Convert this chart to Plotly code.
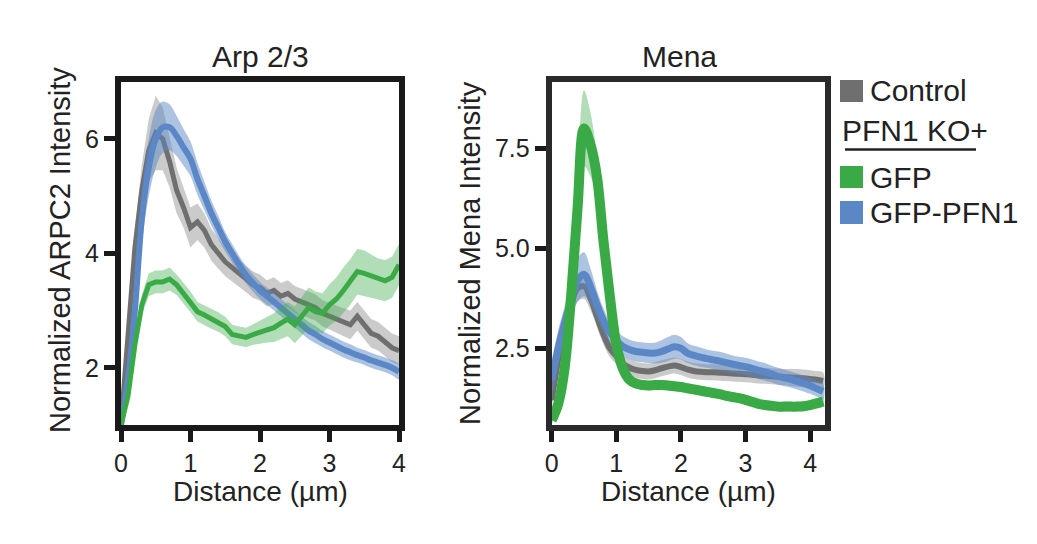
import plotly.graph_objects as go

# ---------------- data ----------------
dist_arp = [round(i * 0.1, 1) for i in range(41)]          # 0 .. 4.0
dist_mena = [round(i * 0.1, 1) for i in range(43)]         # 0 .. 4.2

arp_control = [1.0, 2.7, 4.1, 5.1, 5.8, 6.1, 6.0, 5.6, 5.1, 4.8, 4.45, 4.55, 4.4, 4.15, 4.0,
               3.85, 3.75, 3.65, 3.55, 3.45, 3.4, 3.3, 3.35, 3.25, 3.3, 3.2, 3.15, 3.1, 3.05,
               2.95, 2.9, 2.85, 2.8, 2.75, 2.9, 2.75, 2.6, 2.55, 2.45, 2.35, 2.3]
arp_control_err = [0.1, 0.25, 0.35, 0.45, 0.55, 0.65, 0.55, 0.45, 0.4, 0.35, 0.35, 0.32, 0.3,
                   0.28, 0.27, 0.25, 0.24, 0.24, 0.23, 0.23, 0.23, 0.23, 0.23, 0.23, 0.23, 0.23,
                   0.23, 0.23, 0.23, 0.23, 0.23, 0.24, 0.24, 0.25, 0.25, 0.25, 0.25, 0.25, 0.25,
                   0.25, 0.25]
arp_gfp_pfn1 = [1.0, 1.8, 3.0, 4.6, 5.5, 6.0, 6.2, 6.2, 6.05, 5.85, 5.65, 5.3, 5.0, 4.7, 4.45,
                4.2, 4.0, 3.8, 3.62, 3.48, 3.35, 3.25, 3.15, 3.05, 2.95, 2.85, 2.75, 2.65, 2.58,
                2.5, 2.44, 2.38, 2.32, 2.27, 2.22, 2.18, 2.13, 2.09, 2.05, 2.0, 1.93]
arp_gfp_pfn1_err = [0.1, 0.2, 0.35, 0.45, 0.5, 0.5, 0.45, 0.4, 0.35, 0.32, 0.3, 0.28, 0.25,
                    0.22, 0.2, 0.17, 0.16, 0.15, 0.15, 0.15, 0.15, 0.15, 0.15, 0.15, 0.15, 0.15,
                    0.15, 0.15, 0.15, 0.14, 0.14, 0.14, 0.14, 0.14, 0.13, 0.13, 0.13, 0.13, 0.13,
                    0.13, 0.13]
arp_gfp = [1.0, 1.5, 2.4, 3.1, 3.45, 3.5, 3.5, 3.55, 3.45, 3.3, 3.15, 2.98, 2.92, 2.85, 2.8,
           2.72, 2.58, 2.55, 2.53, 2.58, 2.62, 2.66, 2.7, 2.78, 2.85, 2.75, 2.9, 3.05, 2.98, 2.95,
           3.1, 3.2, 3.35, 3.5, 3.68, 3.65, 3.6, 3.55, 3.52, 3.58, 3.8]
arp_gfp_err = [0.1, 0.12, 0.15, 0.18, 0.2, 0.2, 0.2, 0.2, 0.18, 0.18, 0.18, 0.17, 0.17, 0.17,
               0.17, 0.17, 0.17, 0.17, 0.17, 0.18, 0.2, 0.22, 0.25, 0.28, 0.3, 0.32, 0.34, 0.35,
               0.35, 0.35, 0.36, 0.38, 0.4, 0.4, 0.4, 0.4, 0.38, 0.36, 0.36, 0.36, 0.36]

mena_control = [1.2, 2.2, 3.0, 3.6, 4.0, 4.05, 3.75, 3.3, 2.85, 2.5, 2.3, 2.12, 2.02, 1.96, 1.93,
                1.92, 1.95, 2.0, 2.04, 2.07, 2.03, 1.97, 1.93, 1.91, 1.9, 1.9, 1.89, 1.88, 1.87,
                1.86, 1.85, 1.84, 1.82, 1.81, 1.8, 1.79, 1.78, 1.77, 1.76, 1.75, 1.73, 1.71, 1.68]
mena_control_err = [0.2, 0.25, 0.28, 0.3, 0.32, 0.32, 0.3, 0.28, 0.25, 0.22, 0.2, 0.2, 0.2, 0.2,
                    0.2, 0.2, 0.2, 0.2, 0.2, 0.2, 0.2, 0.2, 0.2, 0.2, 0.2, 0.2, 0.2, 0.2, 0.2,
                    0.2, 0.2, 0.2, 0.2, 0.2, 0.2, 0.2, 0.2, 0.22, 0.22, 0.22, 0.22, 0.22, 0.22]
mena_gfp_pfn1 = [1.7, 2.5, 3.15, 3.7, 4.2, 4.35, 4.05, 3.6, 3.2, 2.9, 2.7, 2.55, 2.47, 2.42, 2.4,
                 2.38, 2.38, 2.42, 2.48, 2.54, 2.5, 2.38, 2.32, 2.28, 2.24, 2.21, 2.18, 2.14, 2.1,
                 2.07, 2.04, 2.0, 1.95, 1.91, 1.86, 1.8, 1.76, 1.72, 1.67, 1.62, 1.56, 1.49, 1.42]
mena_gfp_pfn1_err = [0.5, 0.45, 0.4, 0.45, 0.55, 0.55, 0.45, 0.35, 0.3, 0.27, 0.25, 0.25, 0.25,
                     0.25, 0.25, 0.25, 0.26, 0.28, 0.3, 0.3, 0.28, 0.25, 0.24, 0.24, 0.23, 0.23,
                     0.23, 0.23, 0.22, 0.22, 0.22, 0.22, 0.22, 0.22, 0.21, 0.21, 0.21, 0.2, 0.2,
                     0.2, 0.2, 0.2, 0.2]
mena_gfp = [0.7, 1.1, 2.0, 3.8, 6.0, 8.0, 7.6, 6.8, 5.2, 3.8, 2.6, 2.0, 1.72, 1.62, 1.58, 1.57,
            1.58, 1.58, 1.57, 1.55, 1.53, 1.5, 1.47, 1.44, 1.41, 1.38, 1.35, 1.31, 1.28, 1.25,
            1.21, 1.16, 1.11, 1.08, 1.06, 1.04, 1.04, 1.04, 1.04, 1.05, 1.08, 1.12, 1.17]
mena_gfp_err = [0.1, 0.12, 0.2, 0.4, 0.7, 0.95, 0.8, 0.5, 0.3, 0.2, 0.15, 0.12, 0.12, 0.12,
                0.12, 0.12, 0.12, 0.12, 0.12, 0.12, 0.12, 0.12, 0.12, 0.12, 0.12, 0.12, 0.12,
                0.12, 0.12, 0.12, 0.12, 0.12, 0.12, 0.12, 0.12, 0.12, 0.12, 0.12, 0.12, 0.12,
                0.12, 0.12, 0.12]

panel_titles = ["Arp 2/3", "Mena"]
y_titles = ["Normalized ARPC2 Intensity", "Normalized Mena Intensity"]
x_title = "Distance (µm)"
legend_labels = ["Control", "PFN1 KO+", "GFP", "GFP-PFN1"]

# ---------------- styles ----------------
FONT = "Liberation Sans, Arial, sans-serif"
GREY, GREY_BAND = "#6f6f6f", "rgba(140,140,140,0.45)"
GREEN, GREEN_BAND = "#3aaa46", "rgba(60,171,74,0.40)"
BLUE, BLUE_BAND = "#5b87c6", "rgba(91,135,197,0.50)"

# page has an 8px body margin: size the figure so it fits the window exactly
OFF = 8
W, H = 1037 - OFF, 544 - OFF
def px(x):
    return (x - OFF) / W
def py(y):
    return 1 - (y - OFF) / H

fig = go.Figure()

def add_series(x, m, e, line_col, band_col, width, xa, ya, shape):
    upper = [a + b for a, b in zip(m, e)]
    lower = [a - b for a, b in zip(m, e)]
    fig.add_trace(go.Scatter(x=x + x[::-1], y=upper + lower[::-1], fill="toself",
                             fillcolor=band_col, line=dict(width=0, shape=shape), mode="lines",
                             hoverinfo="skip", showlegend=False, xaxis=xa, yaxis=ya))
    fig.add_trace(go.Scatter(x=x, y=m, mode="lines",
                             line=dict(color=line_col, width=width, shape=shape),
                             showlegend=False, xaxis=xa, yaxis=ya))

add_series(dist_arp, arp_control, arp_control_err, GREY, GREY_BAND, 5, "x", "y", "linear")
add_series(dist_arp, arp_gfp_pfn1, arp_gfp_pfn1_err, BLUE, BLUE_BAND, 6, "x", "y", "spline")
add_series(dist_arp, arp_gfp, arp_gfp_err, GREEN, GREEN_BAND, 5, "x", "y", "linear")

add_series(dist_mena, mena_control, mena_control_err, GREY, GREY_BAND, 6, "x2", "y2", "spline")
add_series(dist_mena, mena_gfp_pfn1, mena_gfp_pfn1_err, BLUE, BLUE_BAND, 7, "x2", "y2", "spline")
add_series(dist_mena, mena_gfp, mena_gfp_err, GREEN, GREEN_BAND, 10, "x2", "y2", "spline")

axis_common = dict(showline=True, mirror=True, linewidth=6, showgrid=False, zeroline=False,
                   automargin=False, ticks="outside", ticklen=11, tickwidth=5,
                   tickfont=dict(family=FONT, size=25, color="#222"))

fig.update_layout(
    template="none",
    width=W, height=H, margin=dict(l=0, r=0, t=0, b=0, pad=0),
    paper_bgcolor="white", plot_bgcolor="white", showlegend=False,
    font=dict(family=FONT, color="#222"),
    xaxis=dict(domain=[px(121), px(399)], range=[0, 4], tickvals=[0, 1, 2, 3, 4],
               linecolor="#1a1a1a", tickcolor="#1a1a1a", anchor="y", **axis_common),
    yaxis=dict(domain=[py(425), py(81.5)], range=[1, 7], tickvals=[2, 4, 6],
               linecolor="#1a1a1a", tickcolor="#1a1a1a", anchor="x", **axis_common),
    xaxis2=dict(domain=[px(551.7), px(825)], range=[0, 4.23], tickvals=[0, 1, 2, 3, 4],
                linecolor="#2a2a2a", tickcolor="#1a1a1a", anchor="y2", **axis_common),
    yaxis2=dict(domain=[py(425), py(81.7)], range=[0.58, 9.17], tickvals=[2.5, 5.0, 7.5],
                tickformat=".1f", linecolor="#2a2a2a", tickcolor="#1a1a1a", anchor="x2",
                **axis_common),
)

ann = []
# panel titles
ann.append(dict(x=px(260), y=py(56), text=panel_titles[0], font=dict(size=30)))
ann.append(dict(x=px(679), y=py(56), text=panel_titles[1], font=dict(size=30)))
# x titles
ann.append(dict(x=px(260), y=py(491), text=x_title, font=dict(size=28)))
ann.append(dict(x=px(688), y=py(491), text=x_title, font=dict(size=28)))
# y titles
ann.append(dict(x=px(60), y=py(250), text=y_titles[0], textangle=-90, font=dict(size=29)))
ann.append(dict(x=px(470), y=py(253), text=y_titles[1], textangle=-90, font=dict(size=29)))
# legend text
ann.append(dict(x=px(868), y=py(91), text=legend_labels[0], xanchor="left", font=dict(size=30)))
ann.append(dict(x=px(840), y=py(130), text=legend_labels[1], xanchor="left", font=dict(size=30)))
ann.append(dict(x=px(868), y=py(177.5), text=legend_labels[2], xanchor="left", font=dict(size=30)))
ann.append(dict(x=px(868), y=py(212.5), text=legend_labels[3], xanchor="left", font=dict(size=30)))
for a in ann:
    a.setdefault("xanchor", "center")
    a.update(xref="paper", yref="paper", yanchor="middle", showarrow=False)
    a["font"].update(family=FONT, color="#222")
fig.update_layout(annotations=ann)

shapes = [
    dict(type="rect", x0=px(840), x1=px(863), y0=py(102), y1=py(80), fillcolor=GREY, line_width=0),
    dict(type="rect", x0=px(840), x1=px(863), y0=py(188), y1=py(166), fillcolor=GREEN, line_width=0),
    dict(type="rect", x0=px(840), x1=px(863), y0=py(224), y1=py(201), fillcolor=BLUE, line_width=0),
    dict(type="line", x0=px(845), x1=px(976), y0=py(149.5), y1=py(149.5),
         line=dict(color="#222", width=2.5)),
]
for s in shapes:
    s.update(xref="paper", yref="paper")
fig.update_layout(shapes=shapes)

fig.write_html("out.html")
